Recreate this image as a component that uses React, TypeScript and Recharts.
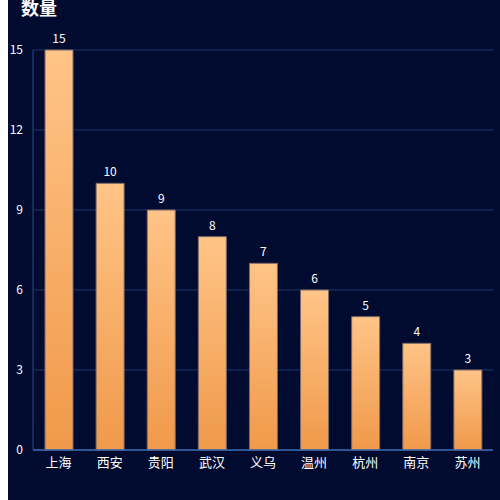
import { BarChart, Bar, XAxis, YAxis, CartesianGrid, LabelList } from 'recharts';

const cities = ['上海', '西安', '贵阳', '武汉', '义乌', '温州', '杭州', '南京', '苏州'];
const counts = [15, 10, 9, 8, 7, 6, 5, 4, 3];
const yTicks = [0, 3, 6, 9, 12, 15];

const data = cities.map((name, i) => ({ name, value: counts[i] }));

const FONT = '"Noto Sans CJK SC", "Noto Sans", sans-serif';

export default function App() {
  return (
    <div
      style={{
        position: 'absolute',
        left: 8,
        top: 0,
        width: 492,
        height: 500,
        background: '#010b30',
        fontFamily: FONT,
        overflow: 'hidden',
      }}
    >
      <div
        style={{
          position: 'absolute',
          left: 13,
          top: -5,
          color: '#ffffff',
          fontSize: 18,
          fontWeight: 'bold',
          lineHeight: '24px',
        }}
      >
        数量
      </div>
      <BarChart
        width={492}
        height={500}
        data={data}
        margin={{ top: 50, right: 7, bottom: 20, left: 5 }}
      >
        <defs>
          <linearGradient id="barFill" x1="0" y1="0" x2="0" y2="1">
            <stop offset="0%" stopColor="#ffc487" />
            <stop offset="100%" stopColor="#f0994a" />
          </linearGradient>
        </defs>
        <CartesianGrid vertical={false} stroke="#1c3768" strokeWidth={1} />
        <XAxis
          dataKey="name"
          height={30}
          tickLine={false}
          axisLine={{ stroke: '#3a67ad', strokeWidth: 1.5 }}
          tick={{ fill: '#ffffff', fontSize: 13, fontFamily: FONT }}
        />
        <YAxis
          width={20}
          domain={[0, 15]}
          ticks={yTicks}
          tickLine={false}
          tickMargin={4}
          axisLine={{ stroke: '#2b4a85' }}
          tick={{ fill: '#ffffff', fontSize: 12, fontFamily: FONT }}
        />
        <Bar
          dataKey="value"
          barSize={28}
          fill="url(#barFill)"
          stroke="#7d6a68"
          strokeWidth={1}
          isAnimationActive={false}
        >
          <LabelList
            dataKey="value"
            position="top"
            offset={7}
            fill="#ffffff"
            fontSize={12}
            fontFamily={FONT}
          />
        </Bar>
      </BarChart>
    </div>
  );
}
